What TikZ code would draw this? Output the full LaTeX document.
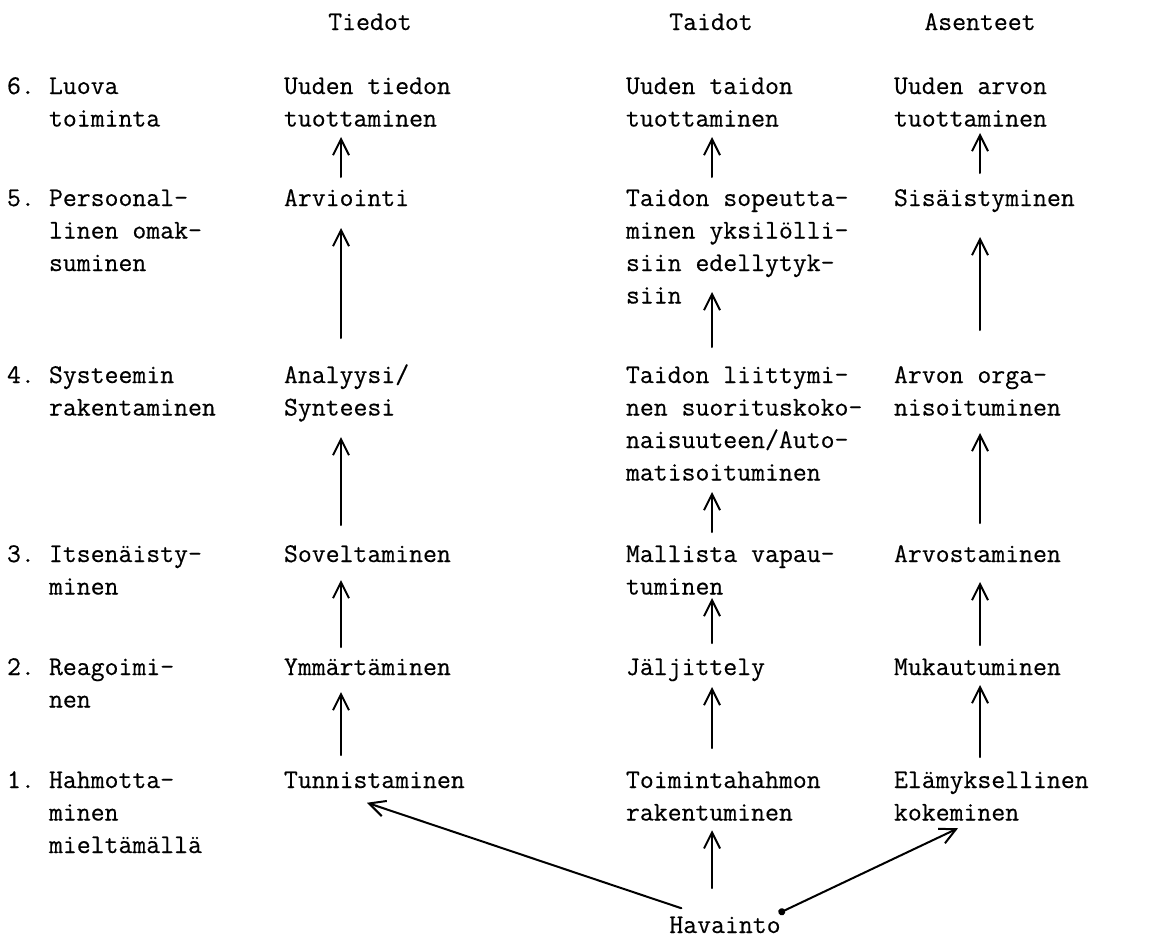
\documentclass[tikz,border=0pt]{standalone}
\usepackage{fontspec}
\setmonofont{Latin Modern Mono}[FakeBold=0.4]
\usetikzlibrary{arrows.meta,calc}
\begin{document}
\begin{tikzpicture}[x=1pt,y=-1pt,
  txt/.style={inner sep=0pt, outer sep=0pt, anchor=north west, align=left,
    font=\ttfamily\fontsize{27}{32.5}\selectfont},
  head/.style={txt, anchor=north},
  up/.style={line width=2pt, line cap=round, -{Straight Barb[length=16pt,width=16pt]}},
  dotup/.style={line width=2pt, line cap=round, {Circle[length=7pt]}-{Straight Barb[length=16pt,width=16pt]}},
]
\useasboundingbox (0,0) rectangle (1171,938);

% column headings
\node[head] (hT) at (370,7.25) {\strut Tiedot\strut};
\node[head] (hK) at (711,7.25) {\strut Taidot\strut};
\node[head] (hA) at (980,7.25) {\strut Asenteet\strut};

% level numbers and names
\node[txt] (n6) at (7,71.25)  {\strut 6.\strut};
\node[txt] (l6) at (49,71.25) {\strut Luova\\toiminta\strut};
\node[txt] (n5) at (7,183.25)  {\strut 5.\strut};
\node[txt] (l5) at (49,183.25) {\strut Persoonal-\\linen omak-\\suminen\strut};
\node[txt] (n4) at (7,360.25)  {\strut 4.\strut};
\node[txt] (l4) at (49,360.25) {\strut Systeemin\\rakentaminen\strut};
\node[txt] (n3) at (7,539.25)  {\strut 3.\strut};
\node[txt] (l3) at (49,539.25) {\strut Itsenäisty-\\minen\strut};
\node[txt] (n2) at (7,652.25)  {\strut 2.\strut};
\node[txt] (l2) at (49,652.25) {\strut Reagoimi-\\nen\strut};
\node[txt] (n1) at (7,765.25)  {\strut 1.\strut};
\node[txt] (l1) at (49,765.25) {\strut Hahmotta-\\minen\\mieltämällä\strut};

% Tiedot
\node[txt] (t6) at (284,71.25)  {\strut Uuden tiedon\\tuottaminen\strut};
\node[txt] (t5) at (284,183.25) {\strut Arviointi\strut};
\node[txt] (t4) at (284,360.25) {\strut Analyysi/\\Synteesi\strut};
\node[txt] (t3) at (284,539.25) {\strut Soveltaminen\strut};
\node[txt] (t2) at (284,652.25) {\strut Ymmärtäminen\strut};
\node[txt] (t1) at (284,765.25) {\strut Tunnistaminen\strut};

% Taidot
\node[txt] (k6) at (626,71.25)  {\strut Uuden taidon\\tuottaminen\strut};
\node[txt] (k5) at (626,183.25) {\strut Taidon sopeutta-\\minen yksilölli-\\siin edellytyk-\\siin\strut};
\node[txt] (k4) at (626,360.25) {\strut Taidon liittymi-\\nen suorituskoko-\\naisuuteen/Auto-\\matisoituminen\strut};
\node[txt] (k3) at (626,539.25) {\strut Mallista vapau-\\tuminen\strut};
\node[txt] (k2) at (626,652.25) {\strut Jäljittely\strut};
\node[txt] (k1) at (626,765.25) {\strut Toimintahahmon\\rakentuminen\strut};

% Asenteet
\node[txt] (a6) at (894,71.25)  {\strut Uuden arvon\\tuottaminen\strut};
\node[txt] (a5) at (894,183.25) {\strut Sisäistyminen\strut};
\node[txt] (a4) at (894,360.25) {\strut Arvon orga-\\nisoituminen\strut};
\node[txt] (a3) at (894,539.25) {\strut Arvostaminen\strut};
\node[txt] (a2) at (894,652.25) {\strut Mukautuminen\strut};
\node[txt] (a1) at (894,765.25) {\strut Elämyksellinen\\kokeminen\strut};

% common root
\node[head] (hav) at (725,910.25) {\strut Havainto\strut};

% arrow columns
\coordinate (tx) at (341,0);
\coordinate (kx) at (712,0);
\coordinate (ax) at (980,0);

% Tiedot arrows
\draw[up, shorten <=6.25pt,  shorten >=0.75pt]  (t5.north -| tx) -- (t6.south -| tx);
\draw[up, shorten <=22.25pt, shorten >=12.25pt] (t4.north -| tx) -- (t5.south -| tx);
\draw[up, shorten <=14.25pt, shorten >=11.75pt] (t3.north -| tx) -- (t4.south -| tx);
\draw[up, shorten <=5.25pt,  shorten >=8.25pt]  (t2.north -| tx) -- (t3.south -| tx);
\draw[up, shorten <=10.25pt, shorten >=7.25pt]  (t1.north -| tx) -- (t2.south -| tx);

% Taidot arrows
\draw[up, shorten <=6.25pt,  shorten >=0.75pt]   (k5.north -| kx) -- (k6.south -| kx);
\draw[up, shorten <=13.25pt, shorten >=-21.25pt] (k4.north -| kx) -- (k5.south -| kx);
\draw[up, shorten <=7.25pt,  shorten >=1.75pt]   (k3.north -| kx) -- (k4.south -| kx);
\draw[up, shorten <=9.25pt,  shorten >=-6.25pt]  (k2.north -| kx) -- (k3.south -| kx);
\draw[up, shorten <=17.25pt, shorten >=2.25pt]   (k1.north -| kx) -- (k2.south -| kx);
\draw[up, shorten <=22.25pt, shorten >=0pt]      (hav.north -| kx) -- (k1.south -| kx);

% Asenteet arrows
\draw[up, shorten <=10.25pt, shorten >=-3.25pt] (a5.north -| ax) -- (a6.south -| ax);
\draw[up, shorten <=30.25pt, shorten >=21.25pt] (a4.north -| ax) -- (a5.south -| ax);
\draw[up, shorten <=16.25pt, shorten >=7.75pt]  (a3.north -| ax) -- (a4.south -| ax);
\draw[up, shorten <=7.25pt,  shorten >=10.25pt] (a2.north -| ax) -- (a3.south -| ax);
\draw[up, shorten <=8.25pt,  shorten >=0.25pt]  (a1.north -| ax) -- (a2.south -| ax);

% from Havainto to the outer columns
\draw[up]    ($(hav.north west)+(12,-2)$) -- ($(t1.south west)+(83,5)$);
\draw[dotup] ($(hav.north east)+(-2,3)$)  -- ($(a1.south west)+(64,-2)$);
\end{tikzpicture}
\end{document}
